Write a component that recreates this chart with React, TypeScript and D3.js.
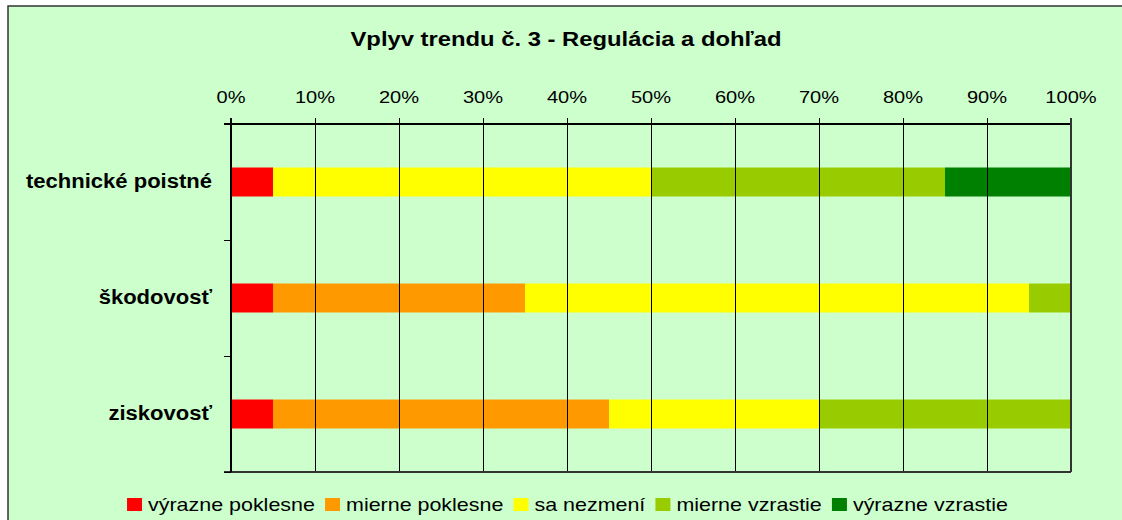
import React from "react";
import * as d3 from "d3";

const title = "Vplyv trendu č. 3 - Regulácia a dohľad";
const categories = ["technické poistné", "škodovosť", "ziskovosť"];
const seriesNames = ["výrazne poklesne", "mierne poklesne", "sa nezmení", "mierne vzrastie", "výrazne vzrastie"];
const seriesColors = ["#FF0000", "#FF9900", "#FFFF00", "#99CC00", "#008000"];
const vyraznePoklesne = [5, 5, 5];
const miernePoklesne = [0, 30, 40];
const saNezmeni = [45, 60, 25];
const mierneVzrastie = [35, 5, 30];
const vyrazneVzrastie = [15, 0, 0];
const tickValues = [0, 10, 20, 30, 40, 50, 60, 70, 80, 90, 100];
const tickLabels = tickValues.map((v) => `${v}%`);

const W = 1122;
const H = 520;
const FONT = '"Liberation Sans", Arial, sans-serif';

let ctx: CanvasRenderingContext2D | null = null;
function measure(text: string, font: string): number {
  if (!ctx) ctx = document.createElement("canvas").getContext("2d");
  if (!ctx) return text.length * 9;
  ctx.font = font;
  return ctx.measureText(text).width;
}

export default function App() {
  const seriesValues = [vyraznePoklesne, miernePoklesne, saNezmeni, mierneVzrastie, vyrazneVzrastie];
  const rows = categories.map((c, i) => {
    const r: any = { cat: c };
    seriesNames.forEach((s, j) => (r[s] = seriesValues[j][i]));
    return r;
  });
  const stack = d3.stack<any>().keys(seriesNames)(rows);

  const x = d3.scaleLinear().domain([0, 100]).range([231, 1071]);
  const y = d3.scaleBand<string>().domain(categories).range([124, 472]).paddingInner(0.75).paddingOuter(0.375);
  const [y0, y1] = y.range();
  const step = y.step();
  const catTicks = d3.range(categories.length + 1).map((i) => y0 + i * step);

  // legend layout
  const legFontSize = 18.5;
  const legSx = 1.16;
  const legFont = `${legFontSize}px ${FONT}`;
  const sq = 15;
  const gapA = 6;
  const gapB = 10;
  const widths = seriesNames.map((s) => measure(s, legFont) * legSx);
  const total = widths.reduce((a, w) => a + sq + gapA + w, 0) + gapB * (seriesNames.length - 1);
  let lx = 567.5 - total / 2;
  const legendItems = seriesNames.map((s, i) => {
    const item = { name: s, color: seriesColors[i], x: lx, w: widths[i] };
    lx += sq + gapA + widths[i] + gapB;
    return item;
  });

  return (
    <svg width={W} height={H} style={{ position: "absolute", left: 0, top: 0, background: "#fff" }} fontFamily={FONT}>
      <rect x={8} y={6} width={W + 10} height={H + 10} fill="#CCFFCC" stroke="#333" strokeWidth={1.5} />
      <text x={566} y={46} textAnchor="middle" fontSize={19.5} fontWeight="bold" textLength={431} lengthAdjust="spacingAndGlyphs" fill="#000">
        {title}
      </text>

      {/* bars */}
      {stack.map((layer, j) =>
        layer.map((d, i) =>
          d[1] - d[0] > 0 ? (
            <rect
              key={`${j}-${i}`}
              x={x(d[0])}
              y={y(categories[i])!}
              width={x(d[1]) - x(d[0])}
              height={y.bandwidth()}
              fill={seriesColors[j]}
            />
          ) : null
        )
      )}

      {/* gridlines */}
      {tickValues.map((v) => (
        <line key={`g${v}`} x1={x(v)} x2={x(v)} y1={118} y2={y1} stroke="#000" strokeWidth={1} shapeRendering="crispEdges" />
      ))}
      {/* axes */}
      <line x1={224} x2={x(100)} y1={y0} y2={y0} stroke="#000" strokeWidth={1.2} shapeRendering="crispEdges" />
      <line x1={224} x2={x(100)} y1={y1} y2={y1} stroke="#333" strokeWidth={1.5} shapeRendering="crispEdges" />
      <line x1={x(100)} x2={x(100)} y1={118} y2={y1} stroke="#333" strokeWidth={1.5} shapeRendering="crispEdges" />
      <line x1={x(0)} x2={x(0)} y1={118} y2={y1} stroke="#000" strokeWidth={1.2} shapeRendering="crispEdges" />
      {catTicks.map((t, i) => (
        <line key={`c${i}`} x1={224} x2={x(0)} y1={t} y2={t} stroke="#000" strokeWidth={1} shapeRendering="crispEdges" />
      ))}

      {/* tick labels */}
      {tickValues.map((v, i) => (
        <text key={`t${v}`} transform={`translate(${x(v)},103) scale(1.18,1)`} textAnchor="middle" fontSize={17} fill="#000">
          {tickLabels[i]}
        </text>
      ))}

      {/* category labels */}
      {categories.map((c) => (
        <text
          key={c}
          transform={`translate(${x(0) - 19},${y(c)! + y.bandwidth() / 2 + 6}) scale(1.13,1)`}
          textAnchor="end"
          fontSize={19.5}
          fontWeight="bold"
          fill="#000"
        >
          {c}
        </text>
      ))}

      {/* legend */}
      {legendItems.map((it) => (
        <g key={it.name}>
          <rect x={it.x} y={498} width={sq} height={13} fill={it.color} />
          <text transform={`translate(${it.x + sq + gapA},511) scale(${legSx},1)`} fontSize={legFontSize} fill="#000">
            {it.name}
          </text>
        </g>
      ))}
    </svg>
  );
}
